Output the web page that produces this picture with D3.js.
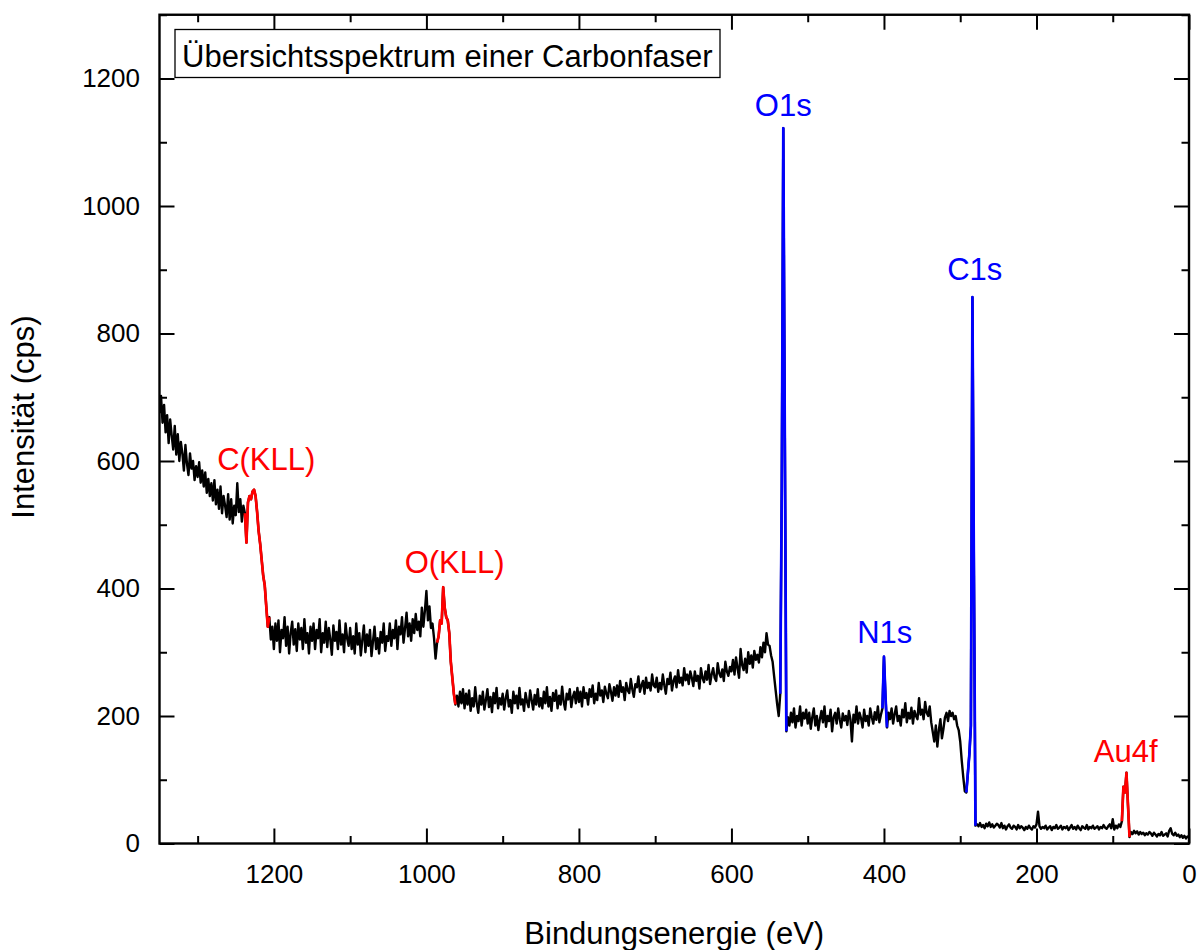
<!DOCTYPE html>
<html>
<head>
<meta charset="utf-8">
<script src="https://cdn.jsdelivr.net/npm/d3@7"></script>
<style>
  body { margin: 0; background: #fff; }
  svg text { font-family: "Liberation Sans", Arial, Helvetica, sans-serif; }
</style>
</head>
<body>
<svg id="chart" width="1197" height="950"></svg>
<script>
// XPS survey spectrum of a carbon fibre, counts per second on a 2 eV grid
// (binding energy runs from 1350 eV down to 0 eV, one row = 50 eV)
const energyStart = 1350;
const energyStep = 2;
const counts = [
  675,702,660,688,645,672,628,665,640,618,655,610,642,600,630,612,585,625,596,578,612,588,600,570,592,
  575,598,566,585,560,582,550,572,545,565,538,570,532,555,525,560,518,545,530,512,548,508,540,502,530,
  515,565,520,540,505,530,518,472,535,545,540,552,555,545,520,490,470,445,420,405,372,340,355,320,340,
  305,345,318,350,300,335,322,355,310,340,298,330,348,312,336,302,345,320,338,305,352,315,330,298,340,
  318,345,305,335,322,352,300,330,315,348,308,338,320,296,342,318,332,305,350,312,328,300,345,322,310,
  338,305,325,298,345,312,330,295,320,342,300,328,310,335,294,318,340,305,322,298,332,315,345,302,325,
  318,345,310,335,322,350,305,340,328,355,315,338,362,325,345,318,352,330,360,335,348,325,370,340,365,
  396,350,372,338,345,322,290,315,325,350,345,402,370,355,350,330,285,260,235,218,232,215,238,220,242,
  212,235,218,240,208,228,215,245,220,205,232,218,238,210,225,242,214,230,206,236,220,244,212,228,218,
  235,210,228,240,215,225,205,238,220,232,212,244,218,226,208,236,222,214,240,225,210,233,218,242,215,
  228,212,238,220,245,215,230,208,236,224,240,212,232,218,246,222,210,235,226,242,214,230,238,220,244,
  222,238,215,245,228,236,218,242,230,248,220,235,225,252,232,240,222,246,235,228,250,238,224,245,232,
  248,230,255,238,245,225,252,240,236,258,242,230,250,245,262,238,248,255,235,260,244,252,240,265,248,
  245,260,238,252,242,265,248,235,258,250,268,240,255,262,245,272,252,260,248,275,256,265,250,270,260,
  247,270,255,263,243,275,260,253,270,257,280,250,265,275,260,255,283,267,261,273,255,285,270,263,277,
  270,288,265,292,275,260,305,280,272,290,268,300,282,295,276,302,288,296,284,308,292,315,300,330,312,
  310,295,285,262,240,218,200,235,560,1122,640,176,198,185,205,190,212,182,200,192,215,185,205,196,210,
  188,205,180,198,212,185,200,178,195,208,190,215,183,200,192,210,176,198,205,188,212,195,182,204,193,
  200,186,208,195,160,202,190,215,188,205,196,182,210,192,200,185,212,198,188,206,194,215,190,202,212,
  293,230,182,205,195,212,188,203,215,192,200,185,210,198,220,190,205,196,213,188,208,200,195,228,202,
  210,195,222,205,200,215,190,175,160,185,152,178,195,165,180,198,205,192,208,200,205,195,200,185,178,
  160,130,104,82,80,110,140,185,857,420,28,30,27,32,26,29,24,31,27,33,26,30,25,28,31,
  29,25,32,24,28,22,27,30,25,23,28,26,22,29,24,27,25,21,26,23,28,24,22,27,25,
  30,50,27,23,26,24,28,22,25,27,21,26,24,29,23,25,28,22,26,24,27,21,25,29,23,
  26,22,28,24,21,27,25,23,29,22,26,24,28,23,25,27,22,26,24,29,25,23,27,30,24,
  38,22,28,24,30,26,35,89,80,111,60,10,18,15,20,16,19,14,18,15,17,13,16,14,18,
  16,12,17,14,11,15,13,18,12,14,16,11,20,24,15,13,17,12,14,10,13,9,12,8,11,
  10
];

// Energy windows of the assigned lines [high, low] in eV
const augerWindows = [[1238, 1206], [986, 962], [88, 78]];   // C(KLL), O(KLL), Au4f
const coreWindows  = [[536, 528], [402, 396], [292, 280]];   // O1s, N1s, C1s

// Line labels: text, anchor energy (eV), anchor intensity (cps)
const redLabels  = ["C(KLL)", "O(KLL)", "Au4f"];
const redLabelE  = [1210, 963, 83];
const redLabelI  = [586, 424, 128];
const blueLabels = ["O1s", "N1s", "C1s"];
const blueLabelE = [532, 399, 281];
const blueLabelI = [1141, 315, 884];

// Axis ranges and ticks
const xDomain = [1350, 0];
const yDomain = [0, 1300];
const xMajor = [1200, 1000, 800, 600, 400, 200, 0];
const xMinor = [1300, 1100, 900, 700, 500, 300, 100];
const yMajor = [0, 200, 400, 600, 800, 1000, 1200];
const yMinor = [100, 300, 500, 700, 900, 1100, 1300];

const chartTitle = "Übersichtsspektrum einer Carbonfaser";
const xTitle = "Bindungsenergie (eV)";
const yTitle = "Intensität (cps)";

// ---------------------------------------------------------------
const plot = { left: 159.5, right: 1189, top: 14.75, bottom: 843.5 };
const svg = d3.select("#chart");

const x = d3.scaleLinear().domain(xDomain).range([plot.left, plot.right]);
const y = d3.scaleLinear().domain(yDomain).range([plot.bottom, plot.top]);

const spectrum = counts.map((c, i) => ({ e: energyStart - i * energyStep, c }));

svg.append("defs").append("clipPath").attr("id", "plotClip")
  .append("rect")
  .attr("x", plot.left).attr("y", plot.top)
  .attr("width", plot.right - plot.left).attr("height", plot.bottom - plot.top);

const line = d3.line().x(d => x(d.e)).y(d => y(d.c));

const dataG = svg.append("g").attr("clip-path", "url(#plotClip)");

dataG.append("path")
  .datum(spectrum)
  .attr("d", line)
  .attr("fill", "none")
  .attr("stroke", "#000")
  .attr("stroke-width", 2.4)
  .attr("stroke-linejoin", "round");

function drawWindows(windows, color) {
  windows.forEach(([hi, lo]) => {
    const seg = spectrum.filter(d => d.e <= hi && d.e >= lo);
    dataG.append("path")
      .datum(seg)
      .attr("d", line)
      .attr("fill", "none")
      .attr("stroke", color)
      .attr("stroke-width", 2.7)
      .attr("stroke-linejoin", "round");
  });
}
drawWindows(augerWindows, "#ff0000");
drawWindows(coreWindows, "#0000ff");

// Axes with inward ticks on all four sides
function styleAxis(g) {
  g.select(".domain").remove();
  g.selectAll(".tick line").attr("stroke", "#000").attr("stroke-width", 2);
  g.selectAll(".tick text")
    .attr("fill", "#000")
    .style("font-family", '"Liberation Sans", Arial, sans-serif')
    .style("font-size", "26px");
}

svg.append("g").attr("transform", `translate(0,${plot.bottom})`)
  .call(d3.axisBottom(x).tickValues(xMajor).tickSize(-15).tickPadding(21).tickFormat(d3.format("d")))
  .call(styleAxis);
svg.append("g").attr("transform", `translate(0,${plot.bottom})`)
  .call(d3.axisBottom(x).tickValues(xMinor).tickSize(-7.5).tickFormat(""))
  .call(styleAxis);
svg.append("g").attr("transform", `translate(0,${plot.top})`)
  .call(d3.axisTop(x).tickValues(xMajor).tickSize(-15).tickFormat(""))
  .call(styleAxis);
svg.append("g").attr("transform", `translate(0,${plot.top})`)
  .call(d3.axisTop(x).tickValues(xMinor).tickSize(-7.5).tickFormat(""))
  .call(styleAxis);

svg.append("g").attr("transform", `translate(${plot.left},0)`)
  .call(d3.axisLeft(y).tickValues(yMajor).tickSize(-15).tickPadding(19.5).tickFormat(d3.format("d")))
  .call(styleAxis);
svg.append("g").attr("transform", `translate(${plot.left},0)`)
  .call(d3.axisLeft(y).tickValues(yMinor).tickSize(-7.5).tickFormat(""))
  .call(styleAxis);
svg.append("g").attr("transform", `translate(${plot.right},0)`)
  .call(d3.axisRight(y).tickValues(yMajor).tickSize(-15).tickFormat(""))
  .call(styleAxis);
svg.append("g").attr("transform", `translate(${plot.right},0)`)
  .call(d3.axisRight(y).tickValues(yMinor).tickSize(-7.5).tickFormat(""))
  .call(styleAxis);

// Plot frame
svg.append("rect")
  .attr("x", plot.left).attr("y", plot.top)
  .attr("width", plot.right - plot.left).attr("height", plot.bottom - plot.top)
  .attr("fill", "none").attr("stroke", "#000").attr("stroke-width", 2.4);

// Axis titles
svg.append("text")
  .attr("x", (plot.left + plot.right) / 2).attr("y", 944)
  .attr("text-anchor", "middle")
  .style("font-size", "31px")
  .text(xTitle);

svg.append("text")
  .attr("transform", "translate(33.5,417) rotate(-90)")
  .attr("text-anchor", "middle")
  .style("font-size", "31px")
  .text(yTitle);

// Line labels
function drawLabels(names, es, is, color) {
  svg.append("g").selectAll("text")
    .data(names)
    .join("text")
    .attr("x", (d, i) => x(es[i]))
    .attr("y", (d, i) => y(is[i]))
    .attr("text-anchor", "middle")
    .attr("fill", color)
    .style("font-size", "31px")
    .text(d => d);
}
drawLabels(redLabels, redLabelE, redLabelI, "#ff0000");
drawLabels(blueLabels, blueLabelE, blueLabelI, "#0000ff");

// Title box
const titleG = svg.append("g");
titleG.append("rect")
  .attr("x", 175).attr("y", 29.5)
  .attr("width", 545).attr("height", 48)
  .attr("fill", "#fff").attr("stroke", "#000").attr("stroke-width", 1.3);
titleG.append("text")
  .attr("x", 182).attr("y", 67)
  .style("font-size", "31px")
  .text(chartTitle);
</script>
</body>
</html>
